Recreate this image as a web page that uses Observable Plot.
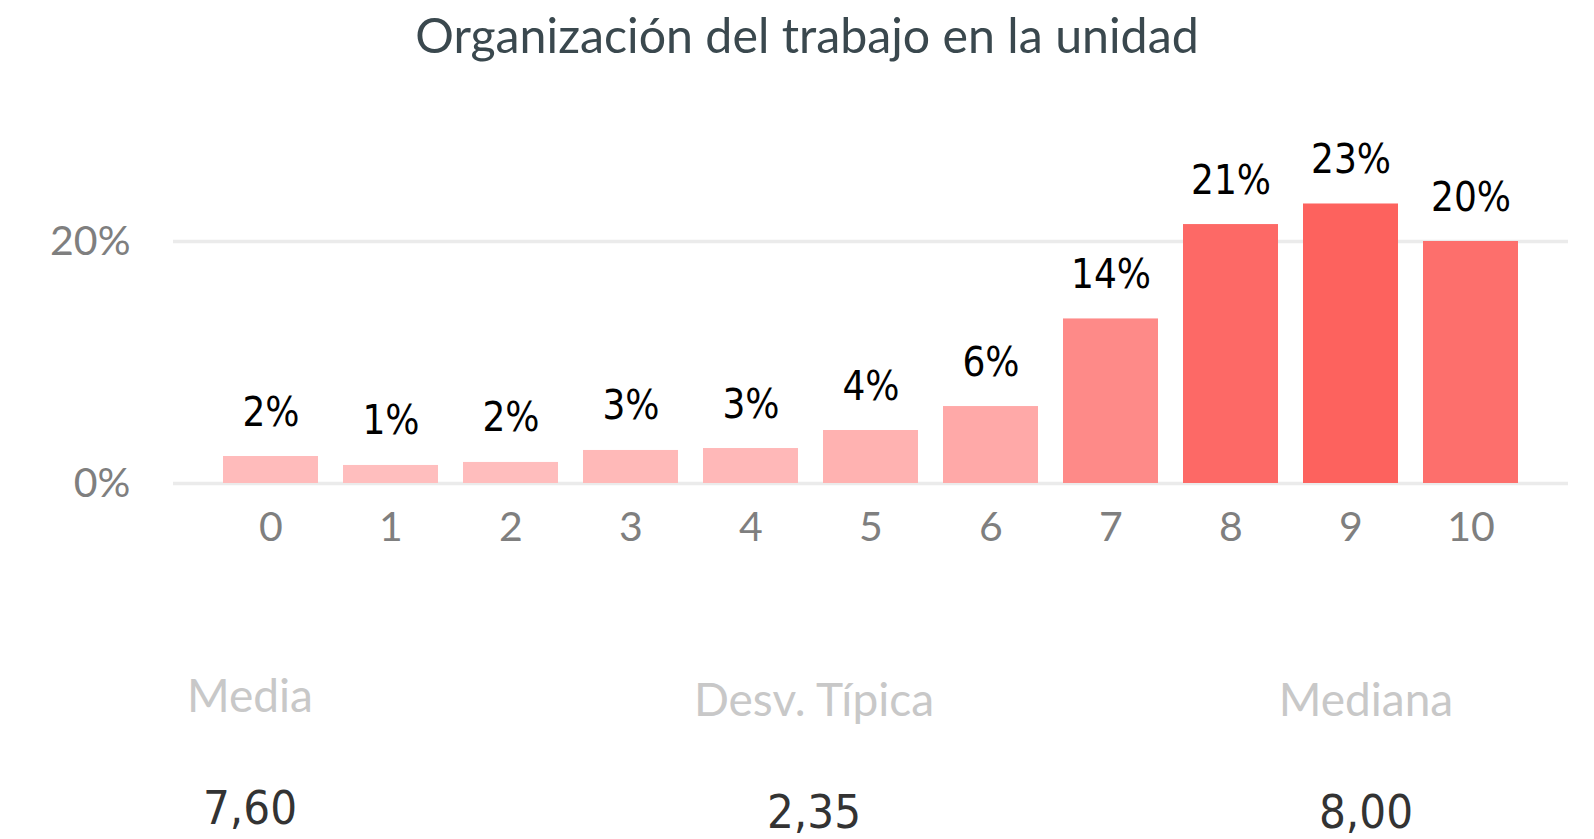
<!DOCTYPE html>
<html>
<head>
<meta charset="utf-8">
<script src="https://cdn.jsdelivr.net/npm/d3@7"></script>
<script src="https://cdn.jsdelivr.net/npm/@observablehq/plot@0.6"></script>
<style>
  html, body { margin: 0; padding: 0; background: #fff; }
  #page { position: relative; width: 1594px; height: 839px; overflow: hidden; }
  #title { position: absolute; left: 10px; top: 10px; width: 1594px; text-align: center;
           font-family: Lato, "Open Sans", sans-serif; font-size: 48.3px; line-height: 1; color: #3a484e; white-space: nowrap; }
  #chart { position: absolute; left: 0; top: 80px; }
  .stat { position: absolute; transform: translateX(-50%); white-space: nowrap; line-height: 1; }
  .stat-label { font-family: Lato, "Open Sans", sans-serif; font-size: 46px; color: #c8c8c8; }
  .stat-value { font-family: "DejaVu Sans Condensed", "Liberation Sans Narrow", sans-serif; font-stretch: condensed; font-size: 47px; color: #333; }
</style>
</head>
<body>
<div id="page">
  <div id="title"></div>
  <div id="chart"></div>
  <div id="stats"></div>
</div>
<script>
const titleText = "Organización del trabajo en la unidad";
const scores = ["0", "1", "2", "3", "4", "5", "6", "7", "8", "9", "10"];
const percents = [2.23, 1.49, 1.74, 2.73, 2.89, 4.38, 6.36, 13.6, 21.4, 23.1, 20.0];
const yTicks = [0, 20];
const statLabels = ["Media", "Desv. Típica", "Mediana"];
const statValues = ["7,60", "2,35", "8,00"];

document.getElementById("title").textContent = titleText;

const data = scores.map((s, i) => ({score: s, pct: percents[i]}));

const chart = Plot.plot({
  width: 1594,
  height: 493,
  marginLeft: 173,
  marginRight: 26,
  marginTop: 100.5,
  marginBottom: 90,
  style: {fontFamily: "Lato, 'Open Sans', sans-serif", fontSize: "41px", background: "white"},
  x: {type: "band", domain: scores, paddingInner: 0.21, paddingOuter: 0.4, align: 0.5, label: null},
  y: {domain: [0, 25], label: null},
  color: {type: "linear", domain: d3.extent(percents), range: ["#ffbebe", "#fd625e"], interpolate: "rgb"},
  marks: [
    Plot.ruleY(yTicks, {stroke: "#ebebeb", strokeWidth: 3.5}),
    Plot.barY(data, {x: "score", y: "pct", fill: "pct"}),
    Plot.text(data, {x: "score", y: "pct", text: d => Math.round(d.pct) + "%", dy: -31, lineAnchor: "bottom",
      fontFamily: "'DejaVu Sans Condensed', 'Liberation Sans Narrow', sans-serif", fontSize: 40, fill: "black",
      fontVariant: "normal"}),
    Plot.axisY({ticks: yTicks, tickFormat: d => d + "%", tickSize: 0, tickPadding: 43, color: "#7f7f7f", fontSize: 41, label: null}),
    Plot.axisX({tickSize: 0, tickPadding: 28, color: "#7f7f7f", fontSize: 41, label: null})
  ]
});
chart.querySelectorAll("g[aria-label='text'] text").forEach(t => t.style.fontStretch = "condensed");
document.getElementById("chart").appendChild(chart);

// Statistics block below the chart
const centers = [250, 814, 1366];
const labelBaselines = [713, 717, 717];
const valueBaselines = [823, 827, 827];
const stats = document.getElementById("stats");
statLabels.forEach((lab, i) => {
  const l = document.createElement("div");
  l.className = "stat stat-label";
  l.textContent = lab;
  l.style.left = centers[i] + "px";
  l.style.top = (labelBaselines[i] - 0.887 * 46) + "px";
  stats.appendChild(l);
  const v = document.createElement("div");
  v.className = "stat stat-value";
  v.textContent = statValues[i];
  v.style.left = centers[i] + "px";
  v.style.top = (valueBaselines[i] - 0.82 * 47) + "px";
  stats.appendChild(v);
});
</script>
</body>
</html>
